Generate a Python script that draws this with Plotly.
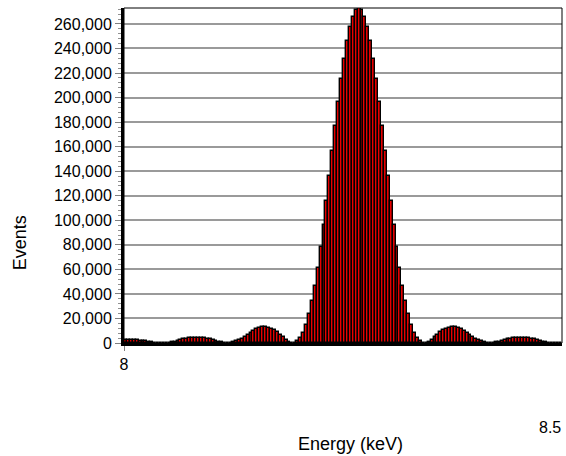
import plotly.graph_objects as go

# Histogram of events per energy bin (150 bins from 8.0 to 8.5 keV)
bin_start = 8.0
bin_width = 0.5 / 150
events = [
    2120, 2240, 2280, 2230, 2080, 1870, 1590, 1270, 930, 610,
    330, 130, 15, 20, 140, 390, 750, 1220, 1760, 2340,
    2920, 3470, 3930, 4260, 4450, 4480, 4340, 4040, 3550, 2980,
    2320, 1640, 1000, 480, 130, 0, 140, 580, 1310, 2340,
    3600, 5080, 6660, 8270, 9770, 11080, 12090, 12720, 12890, 12530,
    11660, 10350, 8630, 6630, 4560, 2620, 1050, 130, 140, 1370,
    4100, 8500, 14900, 23400, 34000, 46700, 61400, 78000, 96200, 115600,
    135800, 156400, 176800, 196400, 214800, 231500, 245800, 257400, 266000, 271200,
    273000,
    271200, 266000, 257400, 245800, 231500, 214800, 196400, 176800, 156400, 135800,
    115600, 96200, 78000, 61400, 46700, 34000, 23400, 14900, 8500, 4100,
    1370, 140, 130, 1050, 2620, 4560, 6630, 8630, 10350, 11660,
    12530, 12890, 12720, 12090, 11080, 9770, 8270, 6660, 5080, 3600,
    2340, 1310, 580, 140, 0, 130, 480, 1000, 1640, 2320,
    2980, 3550, 4040, 4340, 4480, 4450, 4260, 3930, 3470, 2920,
    2340, 1760, 1220, 750, 390, 140, 20, 15, 130,
]
y_ticks = list(range(0, 260001, 20000))
x_range = [8.0, 8.5]

FONT = "Liberation Sans, Arial, sans-serif"

fig = go.Figure()
fig.add_trace(go.Bar(
    x0=bin_start + bin_width / 2, dx=bin_width, y=events,
    width=bin_width,
    marker=dict(color="#e80000", line=dict(color="black", width=1.4)),
    hoverinfo="skip",
))

fig.update_layout(
    width=566, height=456,
    margin=dict(l=124, r=4, t=8, b=113),
    paper_bgcolor="white", plot_bgcolor="white",
    bargap=0, showlegend=False,
    font=dict(family=FONT, size=16, color="black"),
    xaxis=dict(
        range=x_range, tickvals=[8.0], ticktext=["8"],
        ticks="outside", ticklen=5, tickcolor="#808080", tickwidth=1,
        showgrid=False, zeroline=False,
        showline=True, linecolor="black", linewidth=3,
        tickfont=dict(family=FONT, size=16, color="black"),
    ),
    yaxis=dict(
        range=[0, 273000], tickvals=y_ticks, tickformat=",d",
        ticks="outside", ticklen=6, tickcolor="#808080", tickwidth=1,
        minor=dict(dtick=4000, ticks="outside", ticklen=3, tickcolor="#909090", showgrid=False),
        showgrid=True, gridcolor="#9a9a9a", gridwidth=1.5,
        zeroline=False,
        showline=True, linecolor="black", linewidth=3,
        tickfont=dict(family=FONT, size=16, color="black"),
    ),
    shapes=[dict(type="rect", xref="paper", yref="paper", x0=0, x1=1, y0=0, y1=1,
                 line=dict(color="black", width=1), layer="above")],
    annotations=[
        dict(text="Energy (keV)", xref="paper", yref="paper", x=0.518, y=-0.301,
             xanchor="center", yanchor="middle", showarrow=False,
             font=dict(family=FONT, size=18, color="black")),
        dict(text="8.5", xref="paper", yref="paper", x=1.002, y=-0.251,
             xanchor="right", yanchor="middle", showarrow=False,
             font=dict(family=FONT, size=16, color="black")),
        dict(text="Events", xref="paper", yref="paper", x=-0.237, y=0.2985,
             xanchor="center", yanchor="middle", textangle=-90, showarrow=False,
             font=dict(family=FONT, size=18, color="black")),
    ],
)

fig.write_html(
    "out.html",
    config={"displayModeBar": False},
    post_script="document.body.style.margin='0';document.body.style.overflow='hidden';",
)
